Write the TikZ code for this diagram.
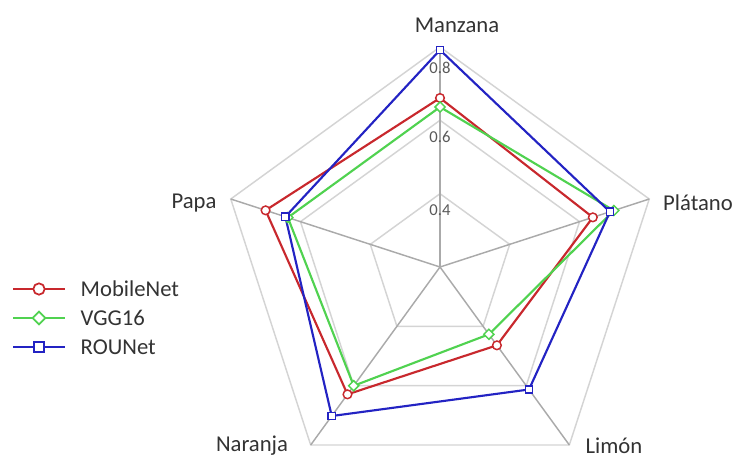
\documentclass[tikz,border=0pt]{standalone}
\usepackage{fontspec}
\setmainfont{Carlito}
\usetikzlibrary{shapes.geometric}
\definecolor{serA}{RGB}{200,40,45}
\definecolor{serB}{RGB}{80,210,80}
\definecolor{serC}{RGB}{35,35,195}
\definecolor{gridc}{RGB}{212,212,212}
\definecolor{axisc}{RGB}{170,170,170}
\definecolor{tickc}{RGB}{89,89,89}
\tikzset{
  gridline/.style={draw=gridc,line width=1.1pt,line join=miter},
  axisline/.style={draw=axisc,line width=1.1pt},
  catlabel/.style={font=\fontsize{17}{20}\selectfont,text=black!80},
  ticklabel/.style={font=\fontsize{12.5}{15}\selectfont,text=tickc},
  serline/.style={line width=1.6pt,line join=round},
  mkcirc/.style={circle,draw=serA,fill=white,line width=1.1pt,inner sep=0pt,minimum size=6.5pt},
  mkdiam/.style={diamond,draw=serB,fill=white,line width=1.1pt,inner sep=0pt,minimum size=8pt},
  mksq/.style={rectangle,draw=serC,fill=white,line width=1.1pt,inner sep=0pt,minimum size=5.5pt},
  legcirc/.style={mkcirc,minimum size=8.5pt,line width=1.3pt},
  legdiam/.style={mkdiam,minimum size=10pt,line width=1.3pt},
  legsq/.style={mksq,minimum size=8pt,line width=1.3pt},
  legtext/.style={font=\fontsize{17}{20}\selectfont,text=black!80,anchor=west}
}
\begin{document}
\begin{tikzpicture}[x=0.75pt,y=0.75pt]
\useasboundingbox (0,0) rectangle (737,-460);
\coordinate (O) at (440,-267);

% pentagonal grid (0.4, 0.6, 0.8)
\foreach \r in {73.3,146.7,220}{
  \draw[gridline] ([shift={(O)}]90:\r) -- ([shift={(O)}]18:\r) -- ([shift={(O)}]-54:\r)
    -- ([shift={(O)}]-126:\r) -- ([shift={(O)}]162:\r) -- cycle;
}
% spokes
\foreach \a/\n in {90/aM,18/aP,-54/aL,-126/aN,162/aA}{
  \coordinate (\n) at ([shift={(O)}]\a:220);
  \draw[axisline] (O) -- (\n);
}

% category labels
\node[catlabel] (tM) at (457,-25) {Manzana};
\node[catlabel] (tP) at (698,-203) {Plátano};
\node[catlabel] (tL) at (614,-446) {Limón};
\node[catlabel] (tN) at (252,-446) {Naranja};
\node[catlabel] (tA) at (194,-203) {Papa};

% radial tick labels
\node[ticklabel] (k4) at (440,-210) {0.4};
\node[ticklabel] (k6) at (440,-137) {0.6};
\node[ticklabel] (k8) at (440,-68) {0.8};

% data points (radius in px from the centre)
\coordinate (r1) at ([shift={(O)}]90:169);
\coordinate (r2) at ([shift={(O)}]18:160.7);
\coordinate (r3) at ([shift={(O)}]-54:96.8);
\coordinate (r4) at ([shift={(O)}]-126:157.4);
\coordinate (r5) at ([shift={(O)}]162:183.4);

\coordinate (g1) at ([shift={(O)}]90:160);
\coordinate (g2) at ([shift={(O)}]18:182.8);
\coordinate (g3) at ([shift={(O)}]-54:83.2);
\coordinate (g4) at ([shift={(O)}]-126:146.8);
\coordinate (g5) at ([shift={(O)}]162:160);

\coordinate (b1) at ([shift={(O)}]90:217);
\coordinate (b2) at ([shift={(O)}]18:178.7);
\coordinate (b3) at ([shift={(O)}]-54:151.4);
\coordinate (b4) at ([shift={(O)}]-126:184.2);
\coordinate (b5) at ([shift={(O)}]162:162.6);

% series polygons
\draw[serline,serA] (r1) -- (r2) -- (r3) -- (r4) -- (r5) -- cycle;
\draw[serline,serB] (g1) -- (g2) -- (g3) -- (g4) -- (g5) -- cycle;
\draw[serline,serC] (b1) -- (b2) -- (b3) -- (b4) -- (b5) -- cycle;

% markers
\foreach \p in {r1,r2,r3,r4,r5}{ \node[mkcirc] (m\p) at (\p) {}; }
\foreach \p in {g1,g2,g3,g4,g5}{ \node[mkdiam] (m\p) at (\p) {}; }
\foreach \p in {b1,b2,b3,b4,b5}{ \node[mksq] (m\p) at (\p) {}; }

% legend
\coordinate (la0) at (13,-289);  \coordinate (la1) at (65,-289);
\coordinate (lb0) at (13,-318);  \coordinate (lb1) at (65,-318);
\coordinate (lc0) at (13,-347);  \coordinate (lc1) at (65,-347);
\draw[serline,serA] (la0) -- (la1);
\draw[serline,serB] (lb0) -- (lb1);
\draw[serline,serC] (lc0) -- (lc1);
\node[legcirc] (lma) at (39,-289) {};
\node[legdiam] (lmb) at (39,-318) {};
\node[legsq]   (lmc) at (39,-347) {};
\node[legtext] (lta) at (76,-289) {MobileNet};
\node[legtext] (ltb) at (76,-318) {VGG16};
\node[legtext] (ltc) at (76,-347) {ROUNet};
\end{tikzpicture}
\end{document}
